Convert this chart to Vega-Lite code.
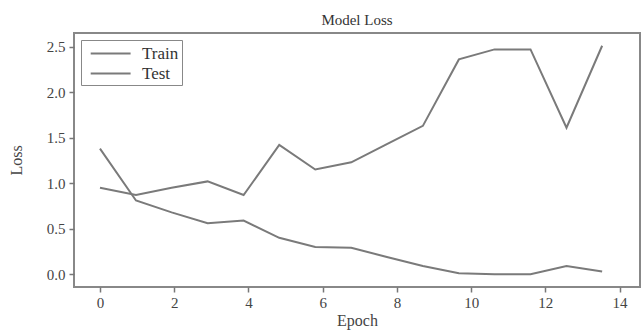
{
  "$schema": "https://vega.github.io/schema/vega-lite/v6.json",
  "width": 566,
  "height": 254,
  "autosize": {"type": "none"},
  "padding": {"left": 74, "top": 33, "right": 2, "bottom": 43},
  "background": "white",
  "title": {"text": "Model Loss", "font": "Liberation Serif", "fontSize": 15, "fontWeight": "normal", "color": "#333", "offset": 5, "anchor": "middle"},
  "config": {
    "view": {"stroke": "#888", "strokeWidth": 2},
    "axis": {"labelFont": "Liberation Serif", "titleFont": "Liberation Serif", "labelColor": "#444", "titleColor": "#444", "labelFontSize": 15, "titleFontSize": 16, "titleFontWeight": "normal", "grid": false, "domain": false, "tickColor": "#777", "tickSize": 5, "tickWidth": 1.5}
  },
  "data": {"values": [
    {"epoch": 0, "loss": 1.38, "series": "Train"},
    {"epoch": 0.97, "loss": 0.81, "series": "Train"},
    {"epoch": 1.93, "loss": 0.68, "series": "Train"},
    {"epoch": 2.9, "loss": 0.56, "series": "Train"},
    {"epoch": 3.87, "loss": 0.59, "series": "Train"},
    {"epoch": 4.83, "loss": 0.40, "series": "Train"},
    {"epoch": 5.8, "loss": 0.30, "series": "Train"},
    {"epoch": 6.77, "loss": 0.29, "series": "Train"},
    {"epoch": 7.73, "loss": 0.19, "series": "Train"},
    {"epoch": 8.7, "loss": 0.09, "series": "Train"},
    {"epoch": 9.67, "loss": 0.01, "series": "Train"},
    {"epoch": 10.63, "loss": 0.0, "series": "Train"},
    {"epoch": 11.6, "loss": 0.0, "series": "Train"},
    {"epoch": 12.57, "loss": 0.09, "series": "Train"},
    {"epoch": 13.53, "loss": 0.03, "series": "Train"},
    {"epoch": 0, "loss": 0.95, "series": "Test"},
    {"epoch": 0.97, "loss": 0.87, "series": "Test"},
    {"epoch": 1.93, "loss": 0.95, "series": "Test"},
    {"epoch": 2.9, "loss": 1.02, "series": "Test"},
    {"epoch": 3.87, "loss": 0.87, "series": "Test"},
    {"epoch": 4.83, "loss": 1.42, "series": "Test"},
    {"epoch": 5.8, "loss": 1.15, "series": "Test"},
    {"epoch": 6.77, "loss": 1.23, "series": "Test"},
    {"epoch": 7.73, "loss": 1.43, "series": "Test"},
    {"epoch": 8.7, "loss": 1.63, "series": "Test"},
    {"epoch": 9.67, "loss": 2.36, "series": "Test"},
    {"epoch": 10.63, "loss": 2.47, "series": "Test"},
    {"epoch": 11.6, "loss": 2.47, "series": "Test"},
    {"epoch": 12.57, "loss": 1.61, "series": "Test"},
    {"epoch": 13.53, "loss": 2.51, "series": "Test"}
  ]},
  "mark": {"type": "line", "strokeWidth": 2},
  "encoding": {
    "x": {"field": "epoch", "type": "quantitative", "title": "Epoch",
      "scale": {"domain": [-0.7, 14.55], "nice": false, "zero": false},
      "axis": {"values": [0, 2, 4, 6, 8, 10, 12, 14], "format": "d", "labelPadding": 3, "titleY": 25}},
    "y": {"field": "loss", "type": "quantitative", "title": "Loss",
      "scale": {"domain": [-0.14, 2.65], "nice": false, "zero": false},
      "axis": {"values": [0, 0.5, 1, 1.5, 2, 2.5], "format": ".1f", "labelPadding": 4, "titleX": -50}},
    "color": {"field": "series", "type": "nominal", "sort": ["Train", "Test"],
      "scale": {"domain": ["Train", "Test"], "range": ["#7a7a7a", "#7a7a7a"]},
      "legend": {"title": null, "orient": "none", "legendX": 7, "legendY": 7, "symbolType": "M-0.4,0H3.8", "symbolSize": 361, "symbolStrokeWidth": 2, "labelFont": "Liberation Serif", "labelFontSize": 17, "labelColor": "#333", "strokeColor": "#888", "padding": 3, "rowPadding": 1, "labelOffset": 37, "fillColor": "white"}}
  }
}
